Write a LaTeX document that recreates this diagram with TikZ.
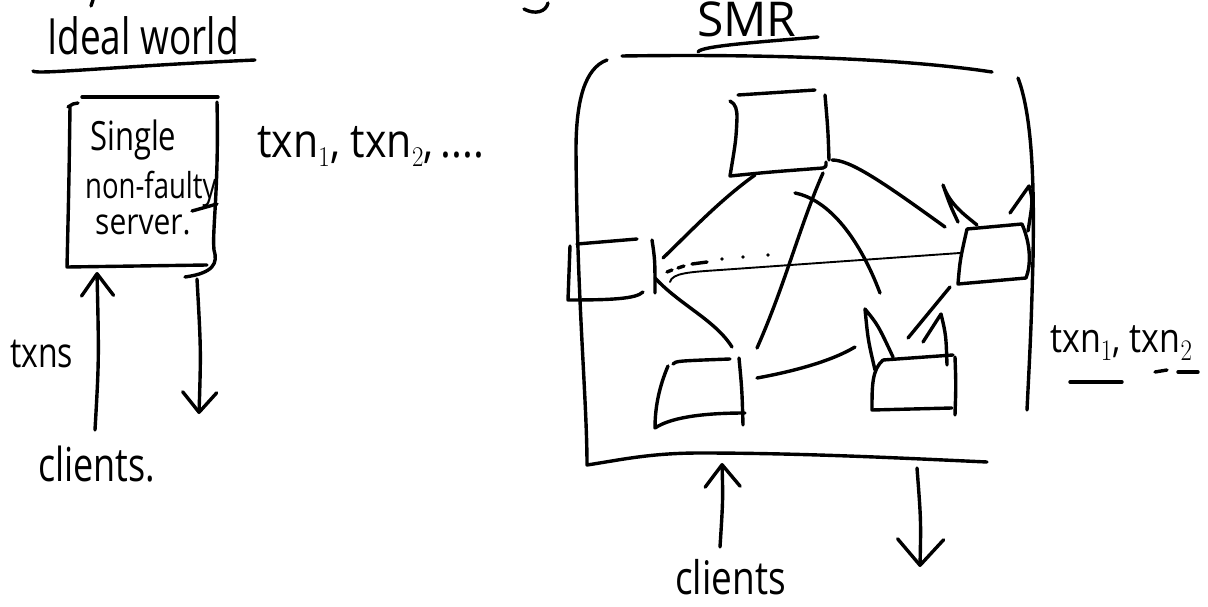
\documentclass[tikz,border=0pt]{standalone}
\usepackage{fontspec}
\setmainfont{Open Sans}
\usetikzlibrary{arrows.meta}
\newcommand{\talltext}[2][1.3]{\scalebox{1}[#1]{#2}}
\begin{document}
\begin{tikzpicture}[x=1pt,y=-1pt,
  pen/.style={line width=3.4pt,line cap=round,line join=round},
  thinpen/.style={line width=1.9pt,line cap=round,line join=round},
  lbl/.style={inner sep=0pt,anchor=base west},
  barbtip/.style 2 args={-{Straight Barb[length=#1pt,width=#2pt,line cap=round,line join=round]}}]
\useasboundingbox[fill=white] (0,0) rectangle (1208,607);

% stray fragments at top edge
\draw[pen] (93,0) -- (91,6);
\draw[pen] (524,9) .. controls (535,15) and (546,12) .. (548,3);

% ---------------- Ideal world ----------------
\node[lbl,font=\fontsize{37}{40}\selectfont] (ideal) at (47,55) {\talltext[1.35]{Ideal world}};
\draw[pen] (33,71) .. controls (35,75) and (120,66) .. (255,60);

% single server box
\node[minimum width=145pt,minimum height=165pt,inner sep=0pt] (srv) at (142,182) {};
\draw[pen] (82,97) -- (218,97);
\draw[pen] (68,107) -- (73,104) -- (78,103);
\draw[pen] (70,107) .. controls (69,180) .. (67,267) -- (207,265);
\draw[pen] (217,102) .. controls (219,190) and (212,230) .. (214,250)
           .. controls (218,263) and (214,273) .. (185,277);
\draw[pen] (192,211) -- (217,204);
\node[lbl,font=\fontsize{31}{30}\selectfont] (l1) at (90,151) {\talltext{Single}};
\node[lbl,font=\fontsize{27.5}{30}\selectfont] (l2) at (85,199) {\talltext{non-faulty}};
\node[lbl,font=\fontsize{30}{30}\selectfont] (l3) at (95,234) {\talltext[1.2]{server.}};

\node[lbl,font=\fontsize{41}{40}\selectfont] (txnA) at (257,158) {\talltext[1.15]{txn$_1$, txn$_2$,\,....}};

% client arrows (left)
\coordinate (inA) at (95,430);
\coordinate (inB) at (97,272);
\coordinate (outA) at (197,279);
\coordinate (outB) at (199,414);
\draw[pen,barbtip={22}{32}] (inA) .. controls (99,360) .. (inB);
\draw[pen,barbtip={20}{34}] (outA) .. controls (201,350) .. (outB);
\node[lbl,font=\fontsize{32}{30}\selectfont] (txns) at (10,367) {\talltext{txns}};
\node[lbl,font=\fontsize{36}{40}\selectfont] (cl1) at (38,481) {\talltext{clients.}};

% ---------------- SMR ----------------
\node[lbl,font=\fontsize{48}{50}\selectfont] (smr) at (697,37) {SMR};
\draw[pen] (698,52) .. controls (700,46) and (760,42) .. (818,37);

% big box
\draw[pen] (607,60) .. controls (585,68) and (576,100) .. (576,150)
           .. controls (577,300) and (587,400) .. (587,465)
           .. controls (620,460) and (650,453) .. (700,453)
           .. controls (800,453) and (900,458) .. (987,462);
\draw[pen] (622,56) .. controls (760,54) and (900,58) .. (992,72);
\draw[pen] (1018,78) .. controls (1034,120) and (1034,200) .. (1033,260)
           .. controls (1031,330) .. (1027,410);

% servers
\node[minimum width=85pt,minimum height=75pt,inner sep=0pt] (T) at (780,133) {};
\node[minimum width=80pt,minimum height=55pt,inner sep=0pt] (L) at (612,270) {};
\node[minimum width=65pt,minimum height=55pt,inner sep=0pt] (R) at (995,254) {};
\node[minimum width=85pt,minimum height=65pt,inner sep=0pt] (BL) at (700,393) {};
\node[minimum width=80pt,minimum height=55pt,inner sep=0pt] (BR) at (913,385) {};

% top server
\draw[pen] (738,95) -- (815,90);
\draw[pen] (730,101) .. controls (736,104) and (737,110) .. (737,118)
           .. controls (736,140) .. (730,176) .. controls (770,172) .. (823,168)
           .. controls (826,167) .. (826,162);
\draw[pen] (825,95) .. controls (828,130) .. (829,160);

% left server
\draw[pen] (577,244) -- (637,239);
\draw[pen] (570,246) -- (568,300) .. controls (610,300) and (636,299) .. (643,292);
\draw[pen] (652,240) .. controls (655,260) .. (655,293);

% right server
\draw[pen] (967,229) -- (1022,224) .. controls (1031,245) and (1031,265) .. (1026,278)
           -- (958,284) .. controls (960,260) .. (967,229);
\draw[pen] (958,222) .. controls (950,205) .. (943,185) .. controls (950,205) and (965,215) .. (977,225);
\draw[pen] (1010,213) .. controls (1020,200) .. (1029,186) .. controls (1033,200) .. (1028,231);

% bottom-left server
\draw[pen] (673,364) .. controls (676,361) .. (730,359);
\draw[pen] (668,366) .. controls (660,385) and (655,405) .. (655,428)
           .. controls (670,418) and (700,413) .. (745,413);
\draw[pen] (739,358) .. controls (742,390) .. (743,425);

% bottom-right server
\draw[pen] (883,360) -- (953,355);
\draw[pen] (883,360) .. controls (872,370) and (872,385) .. (872,410) -- (952,408);
\draw[pen] (955,357) .. controls (956,385) .. (955,415);
\draw[pen] (875,370) .. controls (868,340) .. (865,309) .. controls (878,325) .. (893,357);
\draw[pen] (923,342) .. controls (932,328) .. (941,314) .. controls (946,335) .. (947,365);

% connections
\coordinate (e1a) at (755,175); \coordinate (e1b) at (663,258);
\draw[pen] (e1a) .. controls (720,200) and (690,232) .. (e1b);
\coordinate (e2a) at (823,173); \coordinate (e2b) at (757,348);
\draw[pen] (e2a) .. controls (800,225) and (785,285) .. (e2b);
\coordinate (e3a) at (832,160); \coordinate (e3b) at (945,227);
\draw[pen] (e3a) .. controls (850,160) and (880,180) .. (e3b);
\coordinate (e4a) at (795,193); \coordinate (e4b) at (880,293);
\draw[pen] (e4a) .. controls (830,200) and (860,240) .. (e4b);
\coordinate (e5a) at (670,282); \coordinate (e5b) at (960,253);
\draw[thinpen] (e5a) .. controls (672,273) and (690,272) .. (720,270) -- (e5b);
\draw[pen] (667,272) -- (672,270);
\draw[pen] (678,268) -- (684,266);
\draw[pen] (692,264) -- (707,262);
\fill (722,259) circle (1.8pt);
\fill (743,257) circle (1.8pt);
\fill (768,255) circle (1.8pt);
\coordinate (e7a) at (655,278); \coordinate (e7b) at (732,347);
\draw[pen] (e7a) .. controls (680,305) and (715,320) .. (e7b);
\coordinate (e8a) at (757,378); \coordinate (e8b) at (855,347);
\draw[pen] (e8a) .. controls (790,372) and (830,362) .. (e8b);
\coordinate (e9a) at (950,287); \coordinate (e9b) at (908,338);
\draw[pen] (e9a) -- (e9b);

% output label
\node[lbl,font=\fontsize{34}{40}\selectfont] (txnB) at (1050,352) {\talltext[1.2]{txn$_1$, txn$_2$}};
\draw[pen] (1070,382) -- (1122,382);
\draw[pen] (1155,372) -- (1167,370);
\draw[pen] (1178,372) -- (1198,372);

% client arrows (right)
\coordinate (in2A) at (720,547);
\coordinate (in2B) at (722,463);
\coordinate (out2A) at (917,468);
\coordinate (out2B) at (920,567);
\draw[pen,barbtip={22}{35}] (in2A) .. controls (723,500) .. (in2B);
\draw[pen,barbtip={26}{46}] (out2A) .. controls (921,520) .. (out2B);
\node[lbl,font=\fontsize{37}{40}\selectfont] (cl2) at (675,594) {\talltext[1.25]{clients}};
\end{tikzpicture}
\end{document}
